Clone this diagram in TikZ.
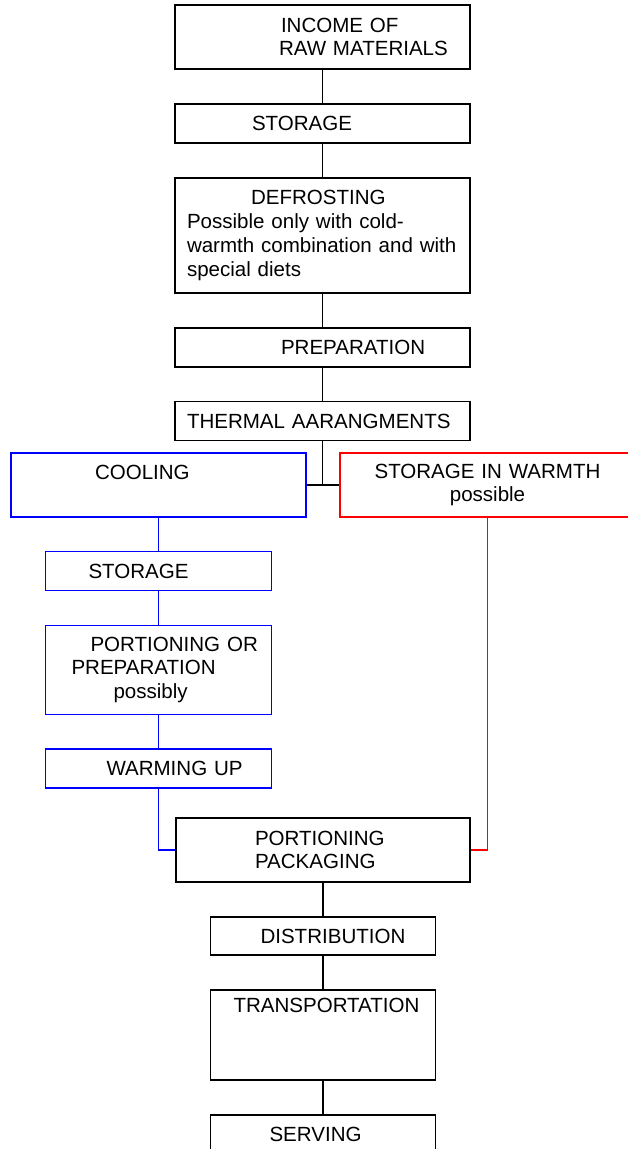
\documentclass[tikz,border=0pt]{standalone}
\usepackage{fontspec}
\setmainfont{Liberation Sans}
\usepackage{tikz}
\usetikzlibrary{positioning}
\newlength{\px}
\setlength{\px}{0.75pt}

\begin{document}
\begin{tikzpicture}
    %% setup
    [
        x=0.75pt, y=-0.75pt, line width=1.1pt,
        node distance=25.1pt,
        stepnode/.style={rectangle, draw=black, line width=1.1pt, inner sep=0pt, align=left, font=\fontsize{15.4}{17.8}\selectfont},
        widenode/.style={stepnode, text width=221.25pt},
        coldnode/.style={stepnode, draw=blue, line width=0.9pt},
        warmnode/.style={stepnode, draw=red, line width=0.9pt},
        coldline/.style={draw=blue, line width=0.9pt},
        warmline/.style={draw=red, line width=0.9pt},
    ]
    \useasboundingbox (0,0) rectangle (628,1149);
    \clip (0,0) rectangle (628,1149);

    %% Nodes
    \node [widenode, minimum height=48pt] (income) at (322.5,37) {\hspace*{106\px}INCOME OF\\\hspace*{104\px}RAW MATERIALS};
    \node [widenode, minimum height=29.25pt] (storage) [below=of income] {\hspace*{77\px}STORAGE};
    \node [widenode, minimum height=86.25pt] (defrost) [below=of storage] {\hspace*{76\px}DEFROSTING\\\hspace*{12\px}Possible only with cold-\\\hspace*{12\px}warmth combination and with\\\hspace*{12\px}special diets};
    \node [widenode, minimum height=29.25pt] (prep) [below=of defrost] {\hspace*{106\px}PREPARATION};
    \node [widenode, minimum height=29.25pt] (thermal) [below=of prep] {\hspace*{12\px}THERMAL AARANGMENTS};

    \node [widenode, coldnode, text height=19.8pt, text depth=28.2pt] (cool) at (158.5,485) {\hspace*{84\px}COOLING};
    \node [widenode, warmnode, align=center, minimum height=48pt] (warm) at (487.5,485) {STORAGE IN WARMTH\\possible};

    \node [coldnode, text width=169.5pt, minimum height=29.25pt] (store2) [below=of cool] {\hspace*{43\px}STORAGE};
    \node [coldnode, text width=169.5pt, minimum height=66.75pt] (portion) [below=of store2] {\hspace*{45\px}PORTIONING OR\\\hspace*{26\px}PREPARATION\\\hspace*{68\px}possibly};
    \node [coldnode, text width=169.5pt, minimum height=29.25pt] (warmup) [below=of portion] {\hspace*{61\px}WARMING UP};

    \node [stepnode, text width=220.5pt, minimum height=48pt] (pack) at (323,850) {\hspace*{79\px}PORTIONING\\\hspace*{79\px}PACKAGING};
    \node [stepnode, text width=168.75pt, minimum height=28.5pt] (distrib) [below=of pack] {\hspace*{50\px}DISTRIBUTION};
    \node [stepnode, text width=168.75pt, text height=16.8pt, text depth=50.7pt] (transport) [below=of distrib] {\hspace*{23\px}TRANSPORTATION};
    \node [stepnode, text width=168.75pt, minimum height=29.25pt] (serving) [below=of transport] {\hspace*{59\px}SERVING};

    \coordinate (split) at (thermal.south |- cool.east);

    %% Lines
    \draw (income.south) -- (storage.north);
    \draw (storage.south) -- (defrost.north);
    \draw (defrost.south) -- (prep.north);
    \draw (prep.south) -- (thermal.north);
    \draw (thermal.south) -- (split);
    \draw (cool.east) -- (warm.west);

    \draw[coldline] (cool.south) -- (store2.north);
    \draw[coldline] (store2.south) -- (portion.north);
    \draw[coldline] (portion.south) -- (warmup.north);
    \draw[coldline] (warmup.south) |- (pack.west);
    \draw[warmline] (warm.south) |- (pack.east);

    \draw (pack.south) -- (distrib.north);
    \draw (distrib.south) -- (transport.north);
    \draw (transport.south) -- (serving.north);

\end{tikzpicture}
\end{document}
